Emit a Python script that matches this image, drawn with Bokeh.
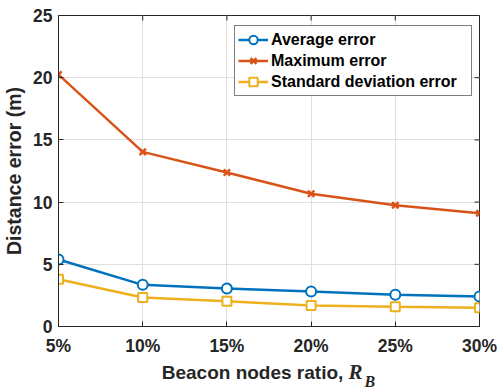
from bokeh.plotting import figure
from bokeh.layouts import column
from bokeh.models import Range1d, Legend, LegendItem, FixedTicker, Div
from bokeh.embed import file_html
from bokeh.resources import INLINE

ratios = [5, 10, 15, 20, 25, 30]
tick_labels = ["5%", "10%", "15%", "20%", "25%", "30%"]
avg_err = [5.39, 3.35, 3.05, 2.81, 2.55, 2.41]
max_err = [20.25, 14.04, 12.38, 10.67, 9.75, 9.1]
std_err = [3.8, 2.33, 2.03, 1.69, 1.58, 1.5]
y_ticks = [0, 5, 10, 15, 20, 25]

FONT = "Liberation Sans"
C_AVG, C_MAX, C_STD = "#0072BD", "#D95319", "#EDB120"
AX = "#262626"

W, H_FIG, H_LAB = 498, 358, 33
BL, BR, BT, BB = 58, 19, 15, 32

p = figure(width=W, height=H_FIG, output_backend="svg", toolbar_location=None,
           x_range=Range1d(ratios[0], ratios[-1]), y_range=Range1d(y_ticks[0], y_ticks[-1]),
           min_border_left=BL, min_border_right=BR, min_border_top=BT, min_border_bottom=BB)
p.outline_line_color = AX
p.outline_line_width = 1
p.background_fill_color = "white"
p.border_fill_color = "white"

for ax in (p.xaxis[0], p.yaxis[0]):
    ax.major_tick_in = 5
    ax.major_tick_out = 0
    ax.minor_tick_in = 0
    ax.minor_tick_out = 0
    ax.axis_line_color = AX
    ax.major_tick_line_color = AX
    ax.major_label_text_font = FONT
    ax.major_label_text_font_style = "bold"
    ax.major_label_text_font_size = "17.5px"
    ax.major_label_text_color = "#262626"

p.xaxis[0].ticker = FixedTicker(ticks=ratios)
p.xaxis[0].major_label_overrides = {r: t for r, t in zip(ratios, tick_labels)}
p.xaxis[0].major_label_standoff = 9
p.yaxis[0].ticker = FixedTicker(ticks=y_ticks)
p.yaxis[0].major_label_standoff = 6
p.yaxis[0].axis_label = "Distance error (m)"
p.yaxis[0].axis_label_text_font = FONT
p.yaxis[0].axis_label_text_font_style = "bold"
p.yaxis[0].axis_label_text_font_size = "19.5px"
p.yaxis[0].axis_label_text_color = "#262626"
p.yaxis[0].axis_label_standoff = 5

p.grid.grid_line_color = "#dfdfdf"
p.grid.grid_line_width = 1

# mirrored inward ticks on the right and top edges of the box
frame_w = W - BL - BR
frame_h = H_FIG - BT - BB
dx = 5 * (ratios[-1] - ratios[0]) / frame_w
dy = 5 * (y_ticks[-1] - y_ticks[0]) / frame_h
p.segment(x0=[ratios[-1]] * len(y_ticks), y0=y_ticks, x1=[ratios[-1] - dx] * len(y_ticks), y1=y_ticks,
          line_color=AX, line_width=1)
p.segment(x0=ratios, y0=[y_ticks[-1]] * len(ratios), x1=ratios, y1=[y_ticks[-1] - dy] * len(ratios),
          line_color=AX, line_width=1)

r_avg = p.line(ratios, avg_err, line_color=C_AVG, line_width=2.5)
m_avg = p.scatter(ratios, avg_err, marker="circle", size=10, line_color=C_AVG, line_width=2, fill_color="white")
r_max = p.line(ratios, max_err, line_color=C_MAX, line_width=2.5)
m_max = p.scatter(ratios, max_err, marker="x", size=9, line_color=C_MAX, line_width=2.5)
r_std = p.line(ratios, std_err, line_color=C_STD, line_width=2.5)
m_std = p.scatter(ratios, std_err, marker="square", size=9, line_color=C_STD, line_width=2, fill_color="white")

legend = Legend(items=[
    LegendItem(label="Average error", renderers=[r_avg, m_avg]),
    LegendItem(label="Maximum error", renderers=[r_max, m_max]),
    LegendItem(label="Standard deviation error", renderers=[r_std, m_std]),
], location=(176, 230))
legend.label_text_font = FONT
legend.label_text_font_style = "bold"
legend.label_text_font_size = "16px"
legend.label_text_color = "black"
legend.border_line_color = "black"
legend.border_line_width = 1
legend.padding = 3
legend.spacing = 0
legend.glyph_width = 30
legend.glyph_height = 21
legend.label_height = 21
legend.label_width = 197
legend.label_standoff = 3
legend.margin = 0
p.add_layout(legend)

xlabel_html = (
    "Beacon nodes ratio, "
    "<span style=\"font-family:'Liberation Serif';font-style:italic;font-size:21px\">R</span>"
    "<span style=\"font-family:'Liberation Serif';font-style:italic;font-size:16px;"
    "position:relative;top:8px;margin-left:2px\">B</span>"
)
xlabel = Div(text=xlabel_html, width=frame_w, height=H_LAB, margin=(0, 0, 0, BL),
             styles={"text-align": "center", "font-family": "'Liberation Sans'", "font-weight": "bold",
                     "font-size": "19px", "color": "#262626", "line-height": "24px",
                     "padding-top": "2px", "white-space": "nowrap", "background": "white"})

layout = column(p, xlabel, spacing=0)
open("out.html", "w").write(file_html(layout, INLINE))
